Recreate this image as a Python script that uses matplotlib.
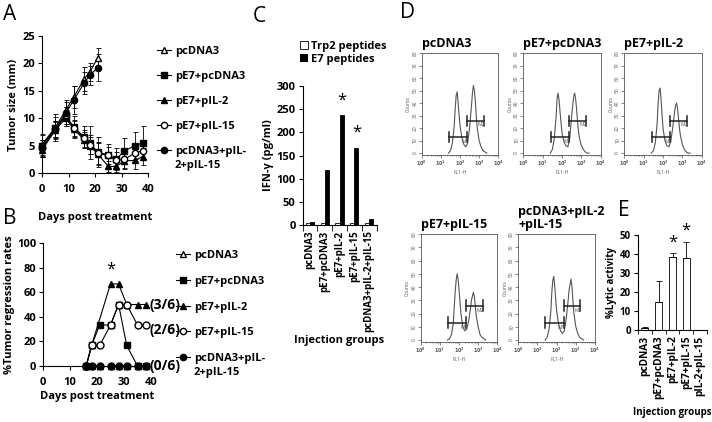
import matplotlib
matplotlib.use('Agg')
import matplotlib.pyplot as plt
from matplotlib.lines import Line2D
from matplotlib.patches import Patch

plt.rcParams['font.family'] = ['Open Sans', 'DejaVu Sans']
plt.rcParams['font.weight'] = 'bold'
plt.rcParams['axes.labelweight'] = 'bold'
plt.rcParams['axes.titleweight'] = 'bold'
plt.rcParams['axes.linewidth'] = 0.8
plt.rcParams['xtick.major.width'] = 0.8
plt.rcParams['ytick.major.width'] = 0.8

W, H = 712, 422

# ---- data ----
groups = ['pcDNA3', 'pE7+pcDNA3', 'pE7+pIL-2', 'pE7+pIL-15', 'pcDNA3+pIL-2+pIL-15']
legend_labels = ['pcDNA3', 'pE7+pcDNA3', 'pE7+pIL-2', 'pE7+pIL-15', 'pcDNA3+pIL-']
legend_wrap = '2+pIL-15'

# A: tumor size (mm)
days_a = [0, 5, 9, 12, 16, 18, 21, 25, 28, 31, 35, 38]
size_pcdna3 = [5.2, 8.3, 11.5, 13.9, 17.2, 18.4, 21.0]
err_pcdna3 = [2.0, 2.5, 1.8, 2.0, 2.2, 1.6, 1.9]
size_e7 = [5.0, 8.2, 10.3, 8.4, 6.5, 5.5, 3.8, 3.3, 2.5, 4.0, 5.0, 5.5]
err_e7 = [2.0, 2.0, 1.7, 2.0, 2.0, 3.0, 2.7, 2.0, 2.0, 2.3, 2.5, 3.0]
size_il2 = [4.2, 7.8, 10.0, 8.0, 6.0, 5.0, 3.5, 1.2, 1.2, 2.2, 2.3, 3.0]
err_il2 = [1.2, 1.5, 1.5, 1.5, 1.5, 1.5, 2.0, 1.0, 1.0, 1.5, 1.5, 1.5]
size_il15 = [4.5, 8.0, 10.5, 8.2, 6.3, 5.2, 3.6, 3.2, 2.3, 2.5, 3.6, 4.1]
err_il15 = [1.5, 1.5, 1.5, 1.5, 1.5, 1.8, 2.0, 1.5, 1.5, 1.5, 1.5, 1.5]
size_combo = [4.6, 8.0, 11.0, 13.3, 16.5, 17.8, 19.2]
err_combo = [1.5, 1.5, 2.0, 2.5, 2.0, 1.8, 2.5]

# B: % tumor regression
days_b = [16, 18, 21, 25, 28, 31, 35, 38]
days_b_il2 = [16, 18, 25, 28, 31, 35, 38]
reg_pcdna3 = [0, 0, 0, 0, 0, 0, 0, 0]
reg_e7 = [0, 16.7, 33.3, 33.3, 50, 16.7, 0, 0]
reg_il2 = [0, 16.7, 66.7, 66.7, 50, 50, 50]
reg_il15 = [0, 16.7, 16.7, 33.3, 50, 50, 33.3, 33.3]
reg_combo = [0, 0, 0, 0, 0, 0, 0, 0]

# C: IFN-gamma (pg/ml)
ifn_trp2 = [5, 5, 5, 5, 5]
ifn_e7 = [7, 118, 238, 167, 12]

# D: flow histograms (FL1-H channel, counts)
fl1 = [25, 32, 40, 50, 56, 63, 71, 80, 90, 100, 126, 158, 200, 251, 316, 398,
       447, 501, 562, 631, 708, 794, 1000, 1259, 1585, 2000, 2512]
counts_pcdna3 = [0, 2, 8, 22, 35, 46, 49, 40, 30, 22, 12, 7, 5, 8, 20, 38, 48, 54, 50, 42, 30, 20, 10, 5, 2, 1, 0]
counts_e7 = [0, 3, 12, 30, 44, 48, 42, 32, 24, 16, 9, 6, 5, 12, 30, 45, 48, 44, 36, 26, 18, 12, 6, 3, 1, 0, 0]
counts_il2 = [0, 2, 8, 24, 40, 50, 52, 42, 30, 20, 10, 6, 5, 9, 20, 33, 38, 40, 36, 28, 20, 14, 7, 3, 1, 0, 0]
counts_il15 = [0, 1, 4, 12, 24, 36, 45, 50, 46, 38, 20, 10, 7, 8, 14, 24, 30, 33, 36, 33, 26, 18, 10, 4, 2, 1, 0]
counts_combo = [0, 2, 8, 22, 36, 45, 48, 40, 30, 22, 12, 7, 5, 7, 16, 30, 38, 42, 46, 40, 30, 20, 10, 5, 2, 1, 0]
gate_m1 = [26, 234]
gate_m2 = [234, 1700]
gate_levels = [13, 26]

# E: % lytic activity
lytic = [1.0, 15.0, 38.5, 38.0, 0.0]
lytic_err = [0.5, 11.0, 2.0, 8.5, 0.0]
e_labels = ['pcDNA3', 'pE7+pcDNA3', 'pE7+pIL-2', 'pE7+pIL-15', 'pIL-2+pIL-15']


def box(x0, y0, x1, y1):
    # pixel box (left, top, right, bottom) -> figure fraction
    return [x0 / W, 1 - y1 / H, (x1 - x0) / W, (y1 - y0) / H]


def excel_axes(ax, size=8):
    ax.spines['top'].set_visible(False)
    ax.spines['right'].set_visible(False)
    ax.tick_params(direction='out', length=3, labelsize=size, pad=2)


fig = plt.figure(figsize=(7.12, 4.22), dpi=100)

styles = [dict(marker='^', mfc='white'), dict(marker='s', mfc='black'),
          dict(marker='^', mfc='black'), dict(marker='o', mfc='white'),
          dict(marker='o', mfc='black')]
handles = [Line2D([], [], color='black', lw=0.8, ms=4.5, mec='black', **s) for s in styles]

# ---- A ----
axA = fig.add_axes(box(42, 36, 148, 173))
series_a = [(days_a[:7], size_pcdna3, err_pcdna3), (days_a, size_e7, err_e7),
            (days_a, size_il2, err_il2), (days_a, size_il15, err_il15),
            (days_a[:7], size_combo, err_combo)]
for (d, v, e), s in zip(series_a, styles):
    axA.errorbar(d, v, yerr=e, color='black', lw=0.8, ms=4.5, mec='black',
                 elinewidth=0.6, capsize=1.8, capthick=0.6, clip_on=False, **s)
axA.set_xlim(0, 40)
axA.set_ylim(0, 25)
axA.set_xticks(range(0, 41, 10))
axA.set_yticks(range(0, 26, 5))
excel_axes(axA)
axA.tick_params(axis='x', pad=5)
axA.set_ylabel('Tumor size (mm)', fontsize=8, labelpad=2)
axA.set_xlabel('Days post treatment', fontsize=8, labelpad=12)
legA = fig.legend(handles, legend_labels, loc='upper left', bbox_to_anchor=(157 / W, 1 - 46 / H),
                  frameon=False, fontsize=8, labelspacing=1.25, handlelength=1.3,
                  handletextpad=0.3, borderpad=0, borderaxespad=0)

# ---- B ----
axB = fig.add_axes(box(43, 243, 151, 366))
series_b = [(days_b, reg_pcdna3), (days_b, reg_e7), (days_b_il2, reg_il2),
            (days_b, reg_il15), (days_b, reg_combo)]
for (d, v), s in zip(series_b, styles):
    axB.plot(d, v, color='black', lw=0.8, ms=5, mec='black', clip_on=False, **s)
axB.set_xlim(0, 40)
axB.set_ylim(0, 100)
axB.set_xticks(range(0, 41, 10))
axB.set_yticks(range(0, 101, 20))
excel_axes(axB)
axB.tick_params(axis='x', pad=5)
axB.set_ylabel('%Tumor regression rates', fontsize=8, labelpad=1)
axB.set_xlabel('Days post treatment', fontsize=8, labelpad=2)
axB.text(25, 72, '*', ha='center', va='bottom', fontsize=12, fontweight='normal')
axB.text(39.6, reg_il2[-1], '(3/6)', ha='left', va='center', fontsize=10, clip_on=False)
axB.text(39.6, 29, '(2/6)', ha='left', va='center', fontsize=10, clip_on=False)
axB.text(39.6, reg_e7[-1], '(0/6)', ha='left', va='center', fontsize=10, clip_on=False)
legB = fig.legend(handles, legend_labels, loc='upper left', bbox_to_anchor=(176 / W, 1 - 250 / H),
                  frameon=False, fontsize=8, labelspacing=1.33, handlelength=1.3,
                  handletextpad=0.3, borderpad=0, borderaxespad=0)

# ---- C ----
axC = fig.add_axes(box(302.5, 86, 376.5, 225))
xc = range(len(groups))
axC.bar([i - 0.14 for i in xc], ifn_trp2, width=0.28, color='white', edgecolor='black', lw=0.6)
axC.bar([i + 0.14 for i in xc], ifn_e7, width=0.28, color='black', edgecolor='black', lw=0.6)
axC.set_xlim(-0.5, 4.5)
axC.set_ylim(0, 300)
axC.set_yticks(range(0, 301, 50))
excel_axes(axC)
axC.set_xticks(list(xc))
axC.set_xticklabels(groups, rotation=90, fontsize=7)
axC.tick_params(axis='x', length=0, pad=4)
axC.set_xticks([i - 0.5 for i in range(6)], minor=True)
axC.tick_params(axis='x', which='minor', length=4, direction='out')
axC.set_ylabel('IFN-γ (pg/ml)', fontsize=8, labelpad=2)
axC.set_xlabel('Injection groups', fontsize=8, labelpad=2)
for i in (2, 3):
    axC.text(i + 0.14, ifn_e7[i] + 14, '*', ha='center', va='bottom', fontsize=12, fontweight='normal')
axC.legend([Patch(facecolor='white', edgecolor='black', lw=0.6), Patch(facecolor='black')],
           ['Trp2 peptides', 'E7 peptides'], loc='upper left',
           bbox_to_anchor=(300 / W, 1 - 41 / H), bbox_transform=fig.transFigure,
           frameon=False, fontsize=8, handlelength=0.7, handleheight=0.7,
           labelspacing=0.15, handletextpad=0.3, borderpad=0, borderaxespad=0)

# ---- D ----
flow = [((421.7, 53, 498.3, 155), 'pcDNA3', counts_pcdna3),
        ((523.3, 53, 600.7, 155), 'pE7+pcDNA3', counts_e7),
        ((624.3, 53, 701.7, 155), 'pE7+pIL-2', counts_il2),
        ((420.7, 234, 497.3, 342), 'pE7+pIL-15', counts_il15),
        ((518.3, 234, 595, 342), 'pcDNA3+pIL-2\n+pIL-15', counts_combo)]
for rect, title, cnt in flow:
    ax = fig.add_axes(box(*rect))
    ax.plot(fl1, cnt, color='#555555', lw=0.8)
    ax.set_xscale('log')
    ax.set_xlim(1, 1e4)
    ax.set_ylim(-1.5, 80)
    ax.set_yticks(range(0, 81, 10))
    ax.set_xticks([1, 10, 100, 1000, 10000])
    ax.set_xticklabels(['$10^0$', '$10^1$', '$10^2$', '$10^3$', '$10^4$'])
    ax.tick_params(labelsize=3.5, length=2, width=0.5, colors='#555555', pad=1)
    ax.tick_params(which='minor', length=1, width=0.4, colors='#555555')
    for lbl in ax.get_yticklabels():
        lbl.set_rotation(90)
        lbl.set_fontweight('normal')
        lbl.set_va('center')
    for sp in ax.spines.values():
        sp.set_linewidth(0.6)
        sp.set_color('#555555')
    ax.set_ylabel('Counts', fontsize=3.5, fontweight='normal', color='#555555', labelpad=1)
    ax.set_xlabel('FL1-H', fontsize=3.5, fontweight='normal', color='#555555', labelpad=1)
    for gate, lvl, name in zip((gate_m1, gate_m2), gate_levels, ('M1', 'M2')):
        ax.plot(gate, [lvl, lvl], color='#222222', lw=1.1)
        for g in gate:
            ax.plot([g, g], [lvl - 4, lvl + 4], color='#222222', lw=1.1)
        ax.text(gate[1] * 0.75, lvl - 1.5, name, fontsize=3.5, fontweight='normal',
                color='#555555', ha='center', va='top')
    ax.set_title(title, loc='left', fontsize=9, pad=4, linespacing=1.0)

# ---- E ----
axE = fig.add_axes(box(638, 235, 707, 330))
xe = range(len(e_labels))
axE.bar(list(xe), lytic, width=0.5, color='white', edgecolor='black', lw=0.6,
        yerr=[[0] * len(lytic), lytic_err], capsize=2,
        error_kw=dict(elinewidth=0.6, capthick=0.6))
axE.set_xlim(-0.5, 4.5)
axE.set_ylim(0, 50)
axE.set_yticks(range(0, 51, 10))
excel_axes(axE, 7)
axE.set_xticks(list(xe))
axE.set_xticklabels(e_labels, rotation=90, fontsize=7.3)
axE.tick_params(axis='x', length=0, pad=4)
axE.set_xticks([i - 0.5 for i in range(6)], minor=True)
axE.tick_params(axis='x', which='minor', length=3, direction='out')
axE.set_ylabel('%Lytic activity', fontsize=7, labelpad=2)
axE.set_xlabel('Injection groups', fontsize=7, labelpad=6)
axE.text(2, lytic[2] + lytic_err[2] + 1.5, '*', ha='center', va='bottom', fontsize=12, fontweight='normal')
axE.text(3, lytic[3] + lytic_err[3] + 1.5, '*', ha='center', va='bottom', fontsize=12, fontweight='normal')

# ---- panel letters ----
for x, y, s in [(3, 15, 'A'), (3, 218, 'B'), (253, 17, 'C'), (400, 12, 'D'), (618, 211, 'E')]:
    fig.text(x / W, 1 - y / H, s, fontsize=15, fontweight='normal', va='center', ha='left')

# second line of the last legend label, under the first line
fig.canvas.draw()
for leg in (legA, legB):
    bb = leg.get_texts()[-1].get_window_extent()
    fig.text(bb.x0 / W, (bb.y0 - 3) / H, legend_wrap, fontsize=8, va='top', ha='left')

fig.savefig('out.png', dpi=100)
